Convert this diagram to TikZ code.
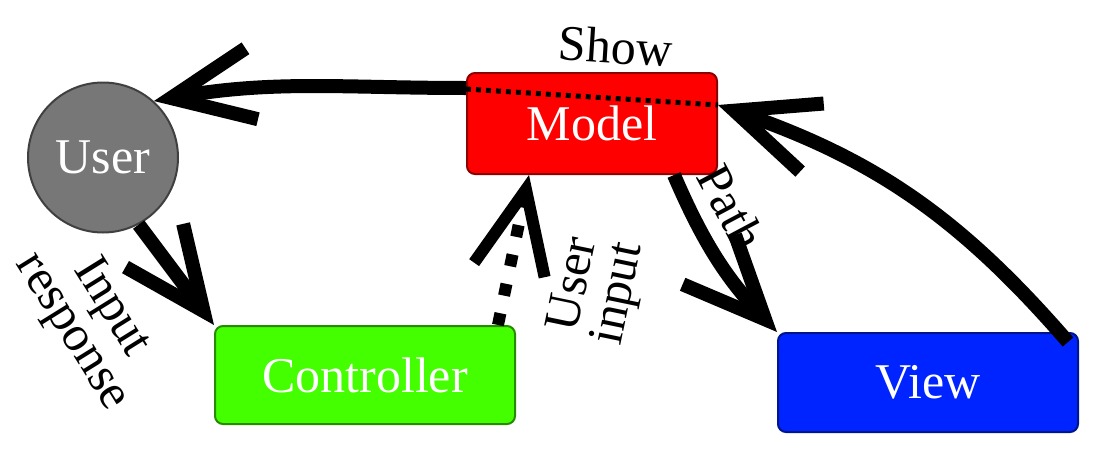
\documentclass[tikz,border=0pt]{standalone}
\usepackage{fontspec}
\setmainfont{Liberation Serif}
\usetikzlibrary{arrows.meta, positioning, calc}
\definecolor{usergray}{RGB}{119,119,119}
\definecolor{modelred}{RGB}{255,0,0}
\definecolor{ctrlgreen}{RGB}{68,255,0}
\definecolor{viewblue}{RGB}{0,36,255}

\begin{document}
\begin{tikzpicture}[
  x=0.5pt, y=-0.5pt,
  font=\fontsize{25}{23}\selectfont,
  box/.style={draw, rounded corners=4pt, line width=1pt, text=white, inner sep=0pt},
  a/.style={-{Straight Barb[length=41pt, width=36pt]}, line width=7pt},
  lbl/.style={align=center, sloped, inner sep=2pt}
]
\useasboundingbox (0,0) rectangle (1100,450);

% ---- the four parts ----
\node[circle, draw=black!75, fill=usergray, line width=1pt, minimum size=75pt,
      inner sep=0pt, text=white] (user) at (103,157.5) {User};
\node[box, fill=modelred, draw=red!55!black, minimum width=125pt,
      minimum height=50.5pt] (model) at (592,123.5) {Model};
\node[box, fill=ctrlgreen, draw=ctrlgreen!55!black, minimum width=150pt,
      minimum height=49pt] (ctrl) at (365,375) {Controller};
\node[box, fill=viewblue, draw=viewblue!55!black, minimum width=150pt,
      minimum height=49.5pt] (view) at (928,382.5) {View};

% ---- flow ----
\draw[a] ([yshift=17.75pt]model.west) to[out=180, in=10] (user.48);
\draw[a] (user.-62) -- node[lbl, rotate=-5, below=20pt, pos=0.42] {Input\\response} (ctrl.north west);
\draw[a, line width=6pt, dash pattern=on 6pt off 9pt] ([xshift=-9pt]ctrl.north east)
  -- node[lbl, below=18pt, pos=0.36] {User\\input} ([xshift=31.5pt]model.south west);
\draw[a] ([xshift=-22pt]model.south east) to[bend right=10]
  node[lbl, above=5pt, pos=0.28] {Path} (view.north west);
\draw[a] ([xshift=-5.5pt, yshift=-5pt]view.north east) to[bend right=15]
  ([yshift=9.25pt]model.east);

% ---- show, through the model ----
\draw[line width=2.5pt, dash pattern=on 2.5pt off 2.5pt] ([yshift=17.25pt]model.west)
  -- node[lbl, above=14pt, pos=0.58] {Show} ([yshift=9.25pt]model.east);

\end{tikzpicture}
\end{document}
